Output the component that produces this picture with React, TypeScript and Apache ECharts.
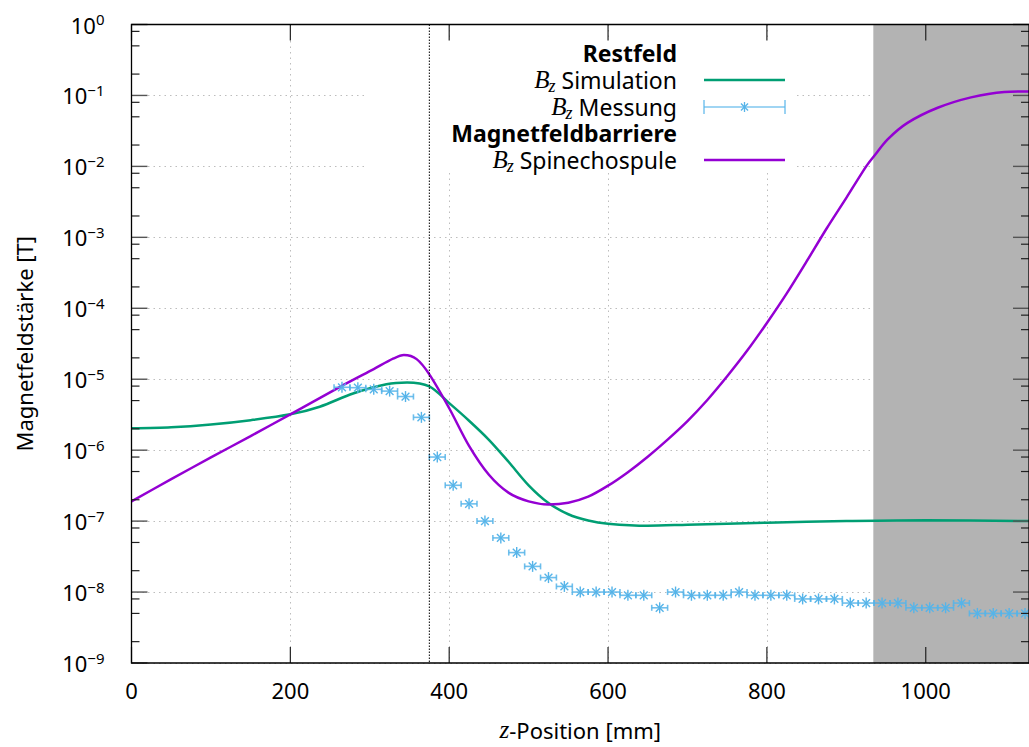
import React, { useEffect, useRef } from "react";
import * as echarts from "echarts";

// ---------- data ----------
const X_MIN = 0;
const X_MAX = 1130;
const Y_MIN = 1e-9;
const Y_MAX = 1;
const xTickValues = [0, 200, 400, 600, 800, 1000];
const yDecadeExponents = [-9, -8, -7, -6, -5, -4, -3, -2, -1, 0];
const yMinorFactors = [2, 5, 8];

// B_z Simulation (Restfeld)
const simX = [0, 50, 100, 150, 200, 237, 279, 321, 347, 375, 400, 425, 450, 475, 500, 525, 550, 575, 600, 650, 700, 800, 900, 1000, 1130];
const simY = [2.03e-6, 2.1e-6, 2.3e-6, 2.65e-6, 3.2e-6, 4.1e-6, 6.3e-6, 8.5e-6, 9.0e-6, 7.9e-6, 4.6e-6, 2.6e-6, 1.4e-6, 6.8e-7, 3.2e-7, 1.8e-7, 1.25e-7, 1.02e-7, 9.2e-8, 8.6e-8, 8.9e-8, 9.5e-8, 1.0e-7, 1.03e-7, 1.0e-7];

// B_z Spinechospule (Magnetfeldbarriere)
const coilX = [0, 50, 100, 150, 200, 267, 305, 330, 343, 359, 375, 400, 425, 450, 475, 500, 525, 550, 575, 600, 625, 650, 675, 700, 725, 750, 775, 800, 825, 850, 875, 900, 925, 935, 952, 977, 1015, 1057, 1099, 1130];
const coilY = [1.9e-7, 3.9e-7, 7.9e-7, 1.58e-6, 3.2e-6, 8.3e-6, 1.39e-5, 1.96e-5, 2.19e-5, 1.92e-5, 1.17e-5, 3.9e-6, 1.15e-6, 4.5e-7, 2.5e-7, 1.9e-7, 1.72e-7, 1.82e-7, 2.21e-7, 3.16e-7, 4.9e-7, 8.1e-7, 1.41e-6, 2.57e-6, 5.1e-6, 1.1e-5, 2.51e-5, 6.2e-5, 1.62e-4, 4.57e-4, 1.32e-3, 3.6e-3, 1.0e-2, 1.4e-2, 2.4e-2, 4.1e-2, 6.7e-2, 9.4e-2, 1.12e-1, 1.14e-1];

// B_z Messung (with x error bars)
const measX = [265, 285, 305, 325, 345, 365, 385, 405, 425, 445, 465, 485, 505, 525, 545, 565, 585, 605, 625, 645, 665, 685, 705, 725, 745, 765, 785, 805, 825, 845, 865, 885, 905, 925, 945, 965, 985, 1005, 1025, 1045, 1065, 1085, 1105, 1125];
const measY = [7.7e-6, 7.6e-6, 7.2e-6, 6.8e-6, 5.7e-6, 2.9e-6, 8.0e-7, 3.2e-7, 1.75e-7, 1.0e-7, 5.8e-8, 3.6e-8, 2.3e-8, 1.6e-8, 1.2e-8, 1.0e-8, 1.0e-8, 1.0e-8, 9e-9, 9e-9, 6e-9, 1.0e-8, 9e-9, 9e-9, 9e-9, 1.0e-8, 9e-9, 9e-9, 9e-9, 8e-9, 8e-9, 8e-9, 7e-9, 7e-9, 7e-9, 7e-9, 6e-9, 6e-9, 6e-9, 7e-9, 5e-9, 5e-9, 5e-9, 5e-9];
const measXErr = 10;

const shadeStartX = 934;
const refLineX = 375;

// legend rows
const legendHeaders = ["Restfeld", "Magnetfeldbarriere"];
const legendSim = "Simulation";
const legendMeas = "Messung";
const legendCoil = "Spinechospule";

// ---------- style ----------
const GREEN = "#009e73";
const PURPLE = "#9400d3";
const BLUE = "#56b4e9";
const FONT = "'Noto Sans', sans-serif";
const MATH = "'Liberation Serif', 'DejaVu Serif', serif";

function expText(e: number) {
  return e < 0 ? "\u2212" + -e : String(e);
}

let measureCtx: CanvasRenderingContext2D | null = null;
function measure(text: string, font: string) {
  if (!measureCtx) measureCtx = document.createElement("canvas").getContext("2d");
  measureCtx!.font = font;
  return measureCtx!.measureText(text).width;
}

export default function App() {
  const ref = useRef<HTMLDivElement>(null);

  useEffect(() => {
    const el = ref.current!;
    const chart = echarts.init(el, null, { renderer: "svg" });

    const option: any = {
      animation: false,
      grid: { left: 131.5, right: 0, top: 24.5, bottom: 81, containLabel: false },
      xAxis: {
        type: "value",
        min: X_MIN,
        max: X_MAX,
        interval: 200,
        axisLine: { show: false },
        axisTick: { show: false },
        splitLine: { show: true, lineStyle: { color: "#bdbdbd", type: [1.5, 4], width: 1 } },
        axisLabel: {
          showMaxLabel: false,
          margin: 16,
          fontSize: 22,
          fontFamily: FONT,
          color: "#000",
          formatter: (v: number) => String(v),
        },
        name: "{i|z}-Position [mm]",
        nameLocation: "middle",
        nameGap: 54,
        nameTextStyle: {
          fontSize: 22,
          fontFamily: FONT,
          color: "#000",
          rich: { i: { fontFamily: MATH, fontStyle: "italic", fontSize: 25, color: "#000" } },
        },
      },
      yAxis: {
        type: "log",
        logBase: 10,
        min: Y_MIN,
        max: Y_MAX,
        splitNumber: 9,
        axisLine: { show: false },
        axisTick: { show: false },
        minorTick: { show: false },
        splitLine: { show: true, lineStyle: { color: "#bdbdbd", type: [1.5, 4], width: 1 } },
        axisLabel: {
          margin: 27,
          formatter: (v: number) => {
            const e = Math.round(Math.log10(v));
            return "{b|10}{s|" + expText(e) + "}";
          },
          rich: {
            b: { fontSize: 22, fontFamily: FONT, color: "#000", lineHeight: 26 },
            s: { fontSize: 15, fontFamily: FONT, color: "#000", lineHeight: 14, verticalAlign: "top" },
          },
        },
        name: "Magnetfeldstärke [T]",
        nameLocation: "middle",
        nameGap: 97,
        nameRotate: 90,
        nameTextStyle: { fontSize: 22, fontFamily: FONT, color: "#000" },
      },
      series: [
        {
          type: "line",
          name: "shade",
          data: [],
          silent: true,
          z: 1,
          markArea: {
            silent: true,
            itemStyle: { color: "#b3b3b3" },
            data: [[{ xAxis: shadeStartX }, { xAxis: X_MAX }]],
          },
        },
        {
          type: "line",
          name: "B_z Simulation",
          data: simX.map((x, i) => [x, simY[i]]),
          symbol: "none",
          showSymbol: false,
          smooth: 0.3,
          lineStyle: { color: GREEN, width: 2.5 },
          z: 3,
        },
        {
          type: "line",
          name: "B_z Spinechospule",
          data: coilX.map((x, i) => [x, coilY[i]]),
          symbol: "none",
          showSymbol: false,
          smooth: 0.3,
          lineStyle: { color: PURPLE, width: 2.5 },
          z: 3,
        },
        {
          type: "custom",
          name: "B_z Messung",
          data: measX.map((x, i) => [x, measY[i], measXErr]),
          encode: { x: 0, y: 1 },
          z: 4,
          renderItem: (params: any, api: any) => {
            const x = api.value(0);
            const y = api.value(1);
            const e = api.value(2);
            const c = api.coord([x, y]);
            const l = api.coord([x - e, y]);
            const r = api.coord([x + e, y]);
            const s = 5.5;
            const d = s * 0.7071;
            const bar = { stroke: BLUE, lineWidth: 1.6, opacity: 0.85 };
            const star = { stroke: BLUE, lineWidth: 1.4 };
            return {
              type: "group",
              children: [
                { type: "line", shape: { x1: l[0], y1: l[1], x2: r[0], y2: r[1] }, style: bar },
                { type: "line", shape: { x1: l[0], y1: l[1] - 3, x2: l[0], y2: l[1] + 3 }, style: bar },
                { type: "line", shape: { x1: r[0], y1: r[1] - 3, x2: r[0], y2: r[1] + 3 }, style: bar },
                { type: "line", shape: { x1: c[0], y1: c[1] - s, x2: c[0], y2: c[1] + s }, style: star },
                { type: "line", shape: { x1: c[0] - d, y1: c[1] - d, x2: c[0] + d, y2: c[1] + d }, style: star },
                { type: "line", shape: { x1: c[0] - d, y1: c[1] + d, x2: c[0] + d, y2: c[1] - d }, style: star },
              ],
            };
          },
        },
      ],
    };

    chart.setOption(option);

    const px = (x: number, y: number) => chart.convertToPixel({ gridIndex: 0 }, [x, y]) as number[];
    const [left, bottom] = px(X_MIN, Y_MIN);
    const [right, top] = px(X_MAX, Y_MAX);

    const g: any[] = [];
    const tickStyle = { stroke: "#222", lineWidth: 1.2 };
    const Z = 50;

    // legend box (opaque)
    const box = { x1: 367, y1: 41, x2: 795, y2: 173 };
    g.push({ type: "rect", z: Z, shape: { x: box.x1, y: box.y1, width: box.x2 - box.x1, height: box.y2 - box.y1 }, style: { fill: "#fff" } });

    // x ticks
    xTickValues.forEach((v) => {
      const X = px(v, Y_MIN)[0];
      g.push({ type: "line", z: Z + 2, shape: { x1: X, y1: bottom, x2: X, y2: bottom - 16 }, style: tickStyle });
      g.push({ type: "line", z: Z + 2, shape: { x1: X, y1: top, x2: X, y2: top + 16 }, style: tickStyle });
    });
    // y ticks
    yDecadeExponents.forEach((e) => {
      const Y = px(X_MIN, Math.pow(10, e))[1];
      g.push({ type: "line", z: Z + 2, shape: { x1: left, y1: Y, x2: left + 16, y2: Y }, style: { stroke: "#555", lineWidth: 1.4 } });
      g.push({ type: "line", z: Z + 2, shape: { x1: right - 16, y1: Y, x2: right, y2: Y }, style: { stroke: "#555", lineWidth: 1.4 } });
      if (e < 0) {
        yMinorFactors.forEach((f) => {
          const Ym = px(X_MIN, f * Math.pow(10, e))[1];
          g.push({ type: "line", z: Z + 2, shape: { x1: left, y1: Ym, x2: left + 8, y2: Ym }, style: tickStyle });
          g.push({ type: "line", z: Z + 2, shape: { x1: right - 8, y1: Ym, x2: right, y2: Ym }, style: tickStyle });
        });
      }
    });
    // frame
    g.push({ type: "rect", z: Z + 3, shape: { x: left, y: top, width: right - left, height: bottom - top }, style: { fill: "none", stroke: "#000", lineWidth: 1.3 } });

    // reference dotted line
    const RX = px(refLineX, Y_MIN)[0];
    g.push({ type: "line", z: Z + 4, shape: { x1: RX, y1: top, x2: RX, y2: bottom }, style: { stroke: "#000", lineWidth: 1, lineDash: [1.5, 1.5] } });

    // legend texts
    const tx = 677;
    const lx1 = 704;
    const lx2 = 785;
    const TEXT_SIZE = 23;
    const plainFont = `${TEXT_SIZE}px 'Noto Sans'`;
    const subFont = `italic 18px 'Liberation Serif'`;

    const addHeader = (text: string, y: number) => {
      g.push({
        type: "text",
        z: Z + 1,
        x: tx,
        y,
        style: { text, align: "right", verticalAlign: "middle", fontSize: TEXT_SIZE, fontFamily: FONT, fontWeight: "bold", fill: "#000" },
      });
    };
    const addBz = (label: string, y: number) => {
      const rest = "\u00a0" + label;
      const w = measure(rest, plainFont);
      const wz = measure("z", subFont);
      g.push({
        type: "text",
        z: Z + 1,
        x: tx,
        y,
        style: { text: rest, align: "right", verticalAlign: "middle", fontSize: TEXT_SIZE, fontFamily: FONT, fill: "#000" },
      });
      g.push({
        type: "text",
        z: Z + 1,
        x: tx - w,
        y: y + 6,
        style: { text: "z", align: "right", verticalAlign: "middle", fontSize: 18, fontFamily: MATH, fontStyle: "italic", fill: "#000" },
      });
      g.push({
        type: "text",
        z: Z + 1,
        x: tx - w - wz + 1,
        y: y - 1,
        style: { text: "B", align: "right", verticalAlign: "middle", fontSize: 25, fontFamily: MATH, fontStyle: "italic", fill: "#000" },
      });
    };
    addHeader(legendHeaders[0], 53);
    addBz(legendSim, 80);
    addBz(legendMeas, 107);
    addHeader(legendHeaders[1], 133);
    addBz(legendCoil, 160);

    g.push({ type: "line", z: Z + 1, shape: { x1: lx1, y1: 80, x2: lx2, y2: 80 }, style: { stroke: GREEN, lineWidth: 2.5 } });
    g.push({ type: "line", z: Z + 1, shape: { x1: lx1, y1: 160, x2: lx2, y2: 160 }, style: { stroke: PURPLE, lineWidth: 2.5 } });
    const lb = { stroke: BLUE, lineWidth: 1.6, opacity: 0.75 };
    g.push({ type: "line", z: Z + 1, shape: { x1: lx1, y1: 107, x2: lx2, y2: 107 }, style: lb });
    g.push({ type: "line", z: Z + 1, shape: { x1: lx1, y1: 100, x2: lx1, y2: 114 }, style: lb });
    g.push({ type: "line", z: Z + 1, shape: { x1: lx2, y1: 100, x2: lx2, y2: 114 }, style: lb });
    const cx = (lx1 + lx2) / 2;
    const s = 5;
    const d = s * 0.7071;
    const st = { stroke: BLUE, lineWidth: 1.3 };
    g.push({ type: "line", z: Z + 1, shape: { x1: cx, y1: 107 - s, x2: cx, y2: 107 + s }, style: st });
    g.push({ type: "line", z: Z + 1, shape: { x1: cx - d, y1: 107 - d, x2: cx + d, y2: 107 + d }, style: st });
    g.push({ type: "line", z: Z + 1, shape: { x1: cx - d, y1: 107 + d, x2: cx + d, y2: 107 - d }, style: st });

    chart.setOption({ graphic: g });

    return () => {
      chart.dispose();
    };
  }, []);

  return (
    <div
      ref={ref}
      style={{ position: "absolute", left: 0, top: 0, width: 1029, height: 747, background: "#fff" }}
    />
  );
}
